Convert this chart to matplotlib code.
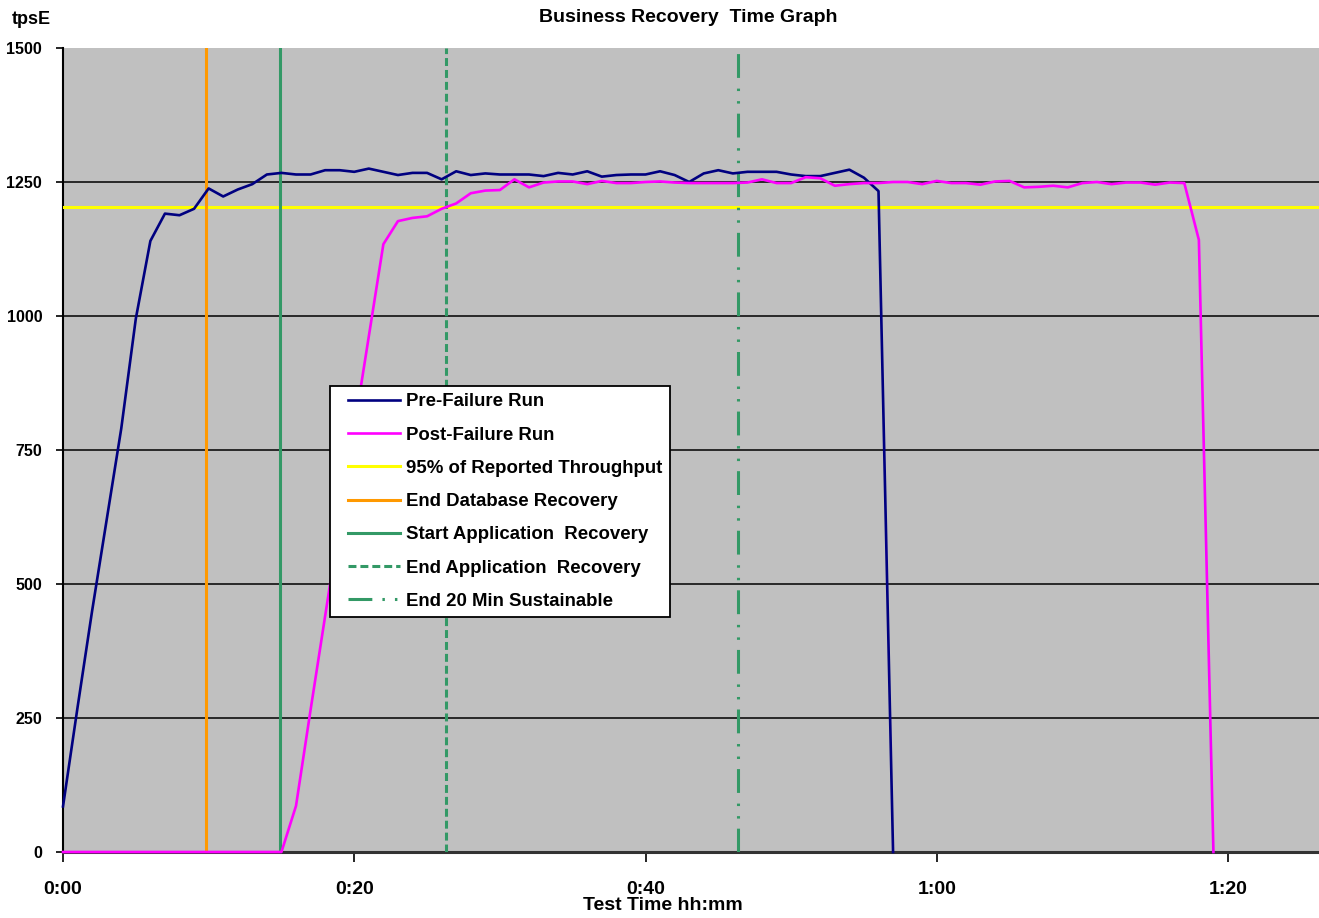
import matplotlib
matplotlib.use("Agg")
import matplotlib.pyplot as plt
from matplotlib import font_manager
from matplotlib.lines import Line2D
from matplotlib.legend_handler import HandlerLine2D

# throughput samples, one per minute (tpsE)
pre_failure = [85, 270, 450, 620, 790, 995, 1140, 1191, 1188, 1200,
               1238, 1223, 1236, 1246, 1264, 1267, 1264, 1264, 1272, 1272,
               1269, 1275, 1269, 1263, 1267, 1267, 1255, 1270, 1263, 1266,
               1264, 1264, 1264, 1261, 1267, 1264, 1270, 1260, 1263, 1264,
               1264, 1270, 1263, 1250, 1266, 1272, 1266, 1269, 1269, 1269,
               1264, 1261, 1261, 1267, 1273, 1258, 1233, 0]
post_failure = [0] * 16 + [86, 265, 440, 615, 790, 962, 1134, 1177, 1183, 1186,
                           1200, 1210, 1229, 1234, 1235, 1255, 1240, 1249, 1251, 1251,
                           1246, 1252, 1248, 1248, 1250, 1251, 1249, 1248, 1248, 1248,
                           1248, 1249, 1255, 1248, 1248, 1259, 1257, 1243, 1246, 1248,
                           1248, 1250, 1250, 1246, 1252, 1248, 1248, 1245, 1251, 1252,
                           1240, 1241, 1243, 1240, 1248, 1250, 1246, 1249, 1249, 1245,
                           1249, 1248, 1142, 0]
pre_t = list(range(len(pre_failure)))
post_t = list(range(len(post_failure)))

threshold_95 = 1203
end_db_recovery = 9.82
start_app_recovery = 14.9
end_app_recovery = 26.33
end_20min = 46.35

x_ticks = [0, 20, 40, 60, 80]
y_ticks = [0, 250, 500, 750, 1000, 1250, 1500]
grid_vals = [250, 500, 750, 1000, 1250]

legend_labels = ["Pre-Failure Run", "Post-Failure Run", "95% of Reported Throughput",
                 "End Database Recovery", "Start Application  Recovery",
                 "End Application  Recovery", "End 20 Min Sustainable"]

names = {f.name for f in font_manager.fontManager.ttflist}
narrow = "Liberation Sans Narrow" if "Liberation Sans Narrow" in names else "Liberation Sans"
plt.rcParams["font.family"] = ["Liberation Sans", "DejaVu Sans"]

fig = plt.figure(figsize=(13.19, 9.18), dpi=100)
ax = fig.add_axes([63 / 1319, 1 - 852 / 918, 1 - 63 / 1319, 804 / 918])
ax.set_facecolor("#c0c0c0")

for g in grid_vals:
    ax.axhline(g, color="black", lw=1.1, zorder=1)

navy = "#000080"
pink = "#ff00ff"
green = "#339966"
lw_v = 2.2

h_pre, = ax.plot(pre_t, pre_failure, color=navy, lw=1.9, zorder=4, clip_on=False)
h_post, = ax.plot(post_t, post_failure, color=pink, lw=1.9, zorder=5, clip_on=False)
h_95 = ax.axhline(threshold_95, color="#ffff00", lw=2.2, zorder=3)
h_db = ax.axvline(end_db_recovery, color="#ff9900", lw=lw_v, zorder=3)
h_sa = ax.axvline(start_app_recovery, color=green, lw=lw_v, zorder=3)
h_ea = ax.axvline(end_app_recovery, color=green, lw=lw_v, zorder=3,
                  linestyle=(0, (2.6, 1.3)))
h_20 = ax.axvline(end_20min, color=green, lw=lw_v, zorder=3,
                  linestyle=(0, (7.8, 3.3, 0.8, 3.3, 0.8, 3.5)))

ax.set_xlim(0, (1319 - 63) / 14.5625)
ax.set_ylim(0, 1500)
ax.set_xticks(x_ticks)
ax.set_xticklabels(["%d:%02d" % (m // 60, m % 60) for m in x_ticks])
ax.set_yticks(y_ticks)
ax.tick_params(axis="x", direction="out", length=7, width=1.2, pad=14,
               labelsize=14)
ax.tick_params(axis="y", direction="out", length=5, width=1.2, pad=10,
               labelsize=11.5)
for lab in ax.get_xticklabels() + ax.get_yticklabels():
    lab.set_family([narrow, "DejaVu Sans"])
    lab.set_fontweight("bold")

for s in ["top", "right"]:
    ax.spines[s].set_visible(False)
ax.spines["left"].set_linewidth(1.5)
ax.spines["bottom"].set_linewidth(2.2)
ax.spines["bottom"].set_color("#333333")

fig.text(688 / 1319, 1 - 17 / 918, "Business Recovery  Time Graph", ha="center",
         va="center", fontsize=14, fontweight="bold", family=[narrow, "DejaVu Sans"])
fig.text(12 / 1319, 1 - 20 / 918, "tpsE", ha="left", va="center", fontsize=13,
         fontweight="bold", family=[narrow, "DejaVu Sans"])
fig.text(663 / 1319, 1 - 906 / 918, "Test Time hh:mm", ha="center", va="center",
         fontsize=14, fontweight="bold", family=[narrow, "DejaVu Sans"])

leg = ax.legend([h_pre, h_post, h_95, h_db, h_sa, h_ea, h_20], legend_labels,
                loc="upper left", bbox_to_anchor=((330 - 63) / 1256, (852 - 386) / 804),
                borderaxespad=0, fancybox=False, framealpha=1, edgecolor="black",
                prop={"weight": "bold", "size": 13.4}, handlelength=3.37,
                handletextpad=0.32, labelspacing=0.87, borderpad=0.4,
                handler_map={Line2D: HandlerLine2D(xpad=0.57)})
leg.get_frame().set_linewidth(1.3)
leg.set_zorder(10)

fig.savefig("out.png", dpi=100)
